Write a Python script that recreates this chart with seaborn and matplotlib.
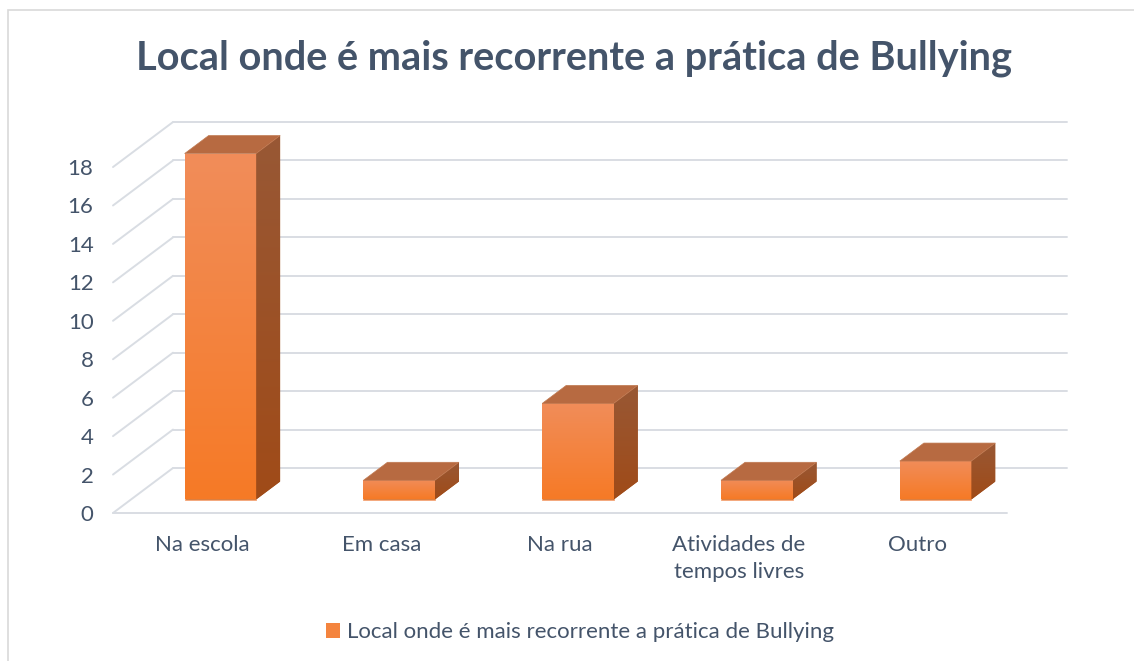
import numpy as np
import matplotlib
matplotlib.use("Agg")
import matplotlib.pyplot as plt
import matplotlib.transforms as mtransforms
from matplotlib.patches import Polygon, Rectangle, Patch
from matplotlib.colors import LinearSegmentedColormap
import seaborn as sns

# -----------------------------
# DATA
# -----------------------------
categories = ["Na escola", "Em casa", "Na rua", "Atividades de\ntempos livres", "Outro"]
values = [18, 1, 5, 1, 2]
yticks = [0, 2, 4, 6, 8, 10, 12, 14, 16, 18]
series_name = "Local onde é mais recorrente a prática de Bullying"
title = "Local onde é mais recorrente a prática de Bullying"

# -----------------------------
# STYLE
# -----------------------------
sns.set_theme(style="white")
plt.rcParams["font.family"] = ["Lato", "DejaVu Sans"]

TEXT = "#44546A"
GRID = "#D9DDE3"
FRONT_TOP, FRONT_BOT = "#F18D5A", "#F67A26"
SIDE_TOP, SIDE_BOT = "#985835", "#A04B18"
TOP_FACE = "#B76A41"

W, H = 1134, 661
DEPTH = np.array([60.0, 45.0])       # pixel offset front -> back wall
BAR_FRONT = 0.3 * DEPTH              # bar front face sits a bit behind the front plane
BAR_DEPTH = 0.4 * DEPTH

fig = plt.figure(figsize=(W / 100, H / 100), dpi=100)
ax = fig.add_axes([113 / W, 148 / H, 894 / W, 384.4 / H])

sns.barplot(x=categories, y=values, width=0.4, color=FRONT_BOT, ax=ax, zorder=3)
ax.set_xlim(-0.5, len(categories) - 0.5)
ax.set_ylim(0, 20)
ax.set_autoscale_on(False)
for s in ax.spines.values():
    s.set_visible(False)

ident = mtransforms.IdentityTransform()
back_trans = ax.transData + mtransforms.Affine2D().translate(*DEPTH)
bar_trans = ax.transData + mtransforms.Affine2D().translate(*BAR_FRONT)


def gradient(clip, box, top, bottom, z):
    cmap = LinearSegmentedColormap.from_list("g", [bottom, top])
    grad = np.linspace(1, 0, 256).reshape(-1, 1)
    im = ax.imshow(grad, cmap=cmap, extent=box, transform=ident,
                   aspect="auto", origin="upper", zorder=z, interpolation="bilinear")
    im.set_clip_path(clip)


# back wall gridlines + diagonals on the left wall
x0, x1 = ax.get_xlim()
for t in yticks:
    ax.plot([x0, x1], [t, t], color=GRID, lw=1.4, transform=back_trans, zorder=0,
            clip_on=False)
    p = ax.transData.transform((x0, t))
    ax.plot([p[0], p[0] + DEPTH[0]], [p[1], p[1] + DEPTH[1]], color=GRID, lw=1.4,
            transform=ident, zorder=0, clip_on=False)
# floor front edge
ax.plot([x0, x1], [0, 0], color=GRID, lw=1.4, zorder=0, clip_on=False)

# 3d-ish bars built from seaborn's rectangles
for bar in ax.patches:
    bx, bw, bh = bar.get_x(), bar.get_width(), bar.get_height()
    bar.set_transform(bar_trans)
    bar.set_edgecolor("#F6A779")
    bar.set_linewidth(0.6)
    c = bar_trans.transform([(bx, 0), (bx + bw, 0), (bx + bw, bh), (bx, bh)])
    gradient(bar, [c[0, 0], c[1, 0], c[0, 1], c[2, 1]], FRONT_TOP, FRONT_BOT, 4)

    side = np.array([c[1], c[2], c[2] + BAR_DEPTH, c[1] + BAR_DEPTH])
    side_patch = Polygon(side, closed=True, transform=ident, facecolor=SIDE_BOT,
                         edgecolor="none", zorder=3)
    ax.add_patch(side_patch)
    gradient(side_patch, [side[:, 0].min(), side[:, 0].max(), side[:, 1].min(), side[:, 1].max()],
             SIDE_TOP, SIDE_BOT, 4)

    top = np.array([c[3], c[2], c[2] + BAR_DEPTH, c[3] + BAR_DEPTH])
    ax.add_patch(Polygon(top, closed=True, transform=ident, facecolor=TOP_FACE,
                         edgecolor="#C07A52", lw=0.5, zorder=5))

# axes text
ax.set_yticks(yticks)
ax.set_xlabel("")
ax.set_ylabel("")
ax.tick_params(axis="y", length=0, pad=14, labelsize=16, labelcolor=TEXT)
ax.tick_params(axis="x", length=0, pad=16, labelsize=16, labelcolor=TEXT)
for lab in ax.get_xticklabels():
    lab.set_linespacing(1.45)
    lab.set_verticalalignment("top")

fig.text(574 / W, 1 - 58 / H, title, ha="center", va="center",
         fontsize=28.6, fontweight="bold", color=TEXT)

fig.legend(handles=[Patch(facecolor="#F4843E", edgecolor="none", label=series_name)],
           loc="center", bbox_to_anchor=(580 / W, 1 - 632 / H), frameon=False,
           fontsize=16, labelcolor=TEXT, handlelength=0.65, handleheight=0.65,
           handletextpad=0.3)

# chart area border
fig.add_artist(Rectangle((8 / W, -0.1), 1.2, (H - 10) / H + 0.1, transform=fig.transFigure,
                         fill=False, edgecolor="#D9D9D9", lw=1.2))

fig.savefig("out.png", dpi=100)
